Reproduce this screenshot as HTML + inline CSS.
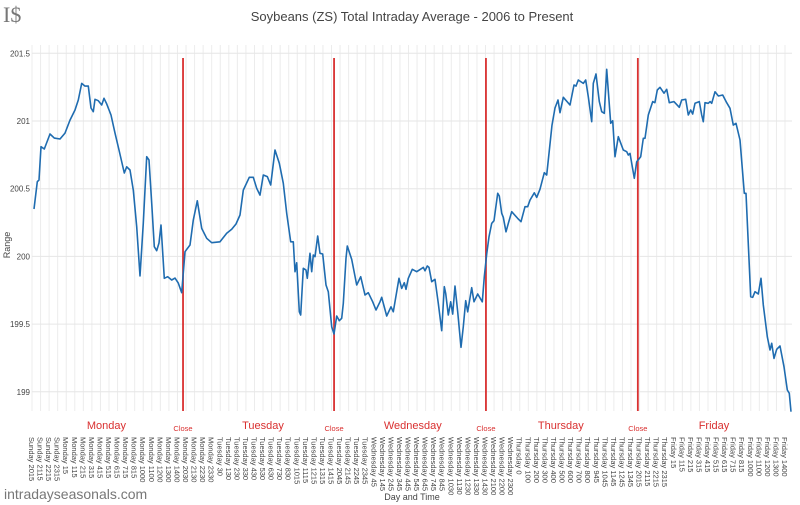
<!DOCTYPE html>
<html><head><meta charset="utf-8"><style>
html,body{margin:0;padding:0;background:#fff;}
svg{display:block;font-family:"Liberation Sans",sans-serif;}
</style></head><body>
<svg id="chart" width="800" height="505" viewBox="0 0 800 505">
<text x="3" y="22" font-family="Liberation Serif,serif" font-size="22" fill="#777">I$</text>
<text x="412" y="21" text-anchor="middle" font-size="13" fill="#444">Soybeans (ZS) Total Intraday Average - 2006 to Present</text>
<g id="grid"></g><g id="yticks"></g><g id="closes"></g><g id="xticks"></g>
<path id="line" fill="none" stroke="#1f6cb0" stroke-width="1.6" stroke-linejoin="round"></path>
<text transform="translate(10,245) rotate(-90)" text-anchor="middle" font-size="9" fill="#444">Range</text>
<text x="412" y="500" text-anchor="middle" font-size="9" fill="#444">Day and Time</text>
<text x="4" y="499" font-size="14" fill="#777">intradayseasonals.com</text>
</svg>
<script>
const categories = ["Sunday 2015","Sunday 2115","Sunday 2215","Sunday 2315",
"Monday 15","Monday 115","Monday 215","Monday 315","Monday 415","Monday 515","Monday 615","Monday 715","Monday 815","Monday 1000","Monday 1100","Monday 1200","Monday 1300","Monday 1400","Monday 2030","Monday 2130","Monday 2230","Monday 2330",
"Tuesday 30","Tuesday 130","Tuesday 230","Tuesday 330","Tuesday 430","Tuesday 530","Tuesday 630","Tuesday 730","Tuesday 830","Tuesday 1015","Tuesday 1115","Tuesday 1215","Tuesday 1315","Tuesday 1415","Tuesday 2045","Tuesday 2145","Tuesday 2245","Tuesday 2345",
"Wednesday 45","Wednesday 145","Wednesday 245","Wednesday 345","Wednesday 445","Wednesday 545","Wednesday 645","Wednesday 745","Wednesday 845","Wednesday 1030","Wednesday 1130","Wednesday 1230","Wednesday 1330","Wednesday 1430","Wednesday 2100","Wednesday 2200","Wednesday 2300",
"Thursday 0","Thursday 100","Thursday 200","Thursday 300","Thursday 400","Thursday 500","Thursday 600","Thursday 700","Thursday 800","Thursday 945","Thursday 1045","Thursday 1145","Thursday 1245","Thursday 1345","Thursday 2015","Thursday 2115","Thursday 2215","Thursday 2315",
"Friday 15","Friday 115","Friday 215","Friday 315","Friday 415","Friday 515","Friday 615","Friday 715","Friday 815","Friday 1000","Friday 1100","Friday 1200","Friday 1300","Friday 1400"];
const yTicks = [199,199.5,200,200.5,201,201.5];
const yTickLabels = ["199","199.5","200","200.5","201","201.5"];
const dayNames = ["Monday","Tuesday","Wednesday","Thursday","Friday"];
const dayCenters = [8.7,27.0,44.5,61.8,79.7];
const closeIdx = [17.65,35.3,53.05,70.8];
const seriesTime = [0.23,0.62,0.82,1.05,1.44,2.10,2.61,3.27,3.86,4.44,5.03,5.41,5.81,6.19,6.58,6.90,7.16,7.36,7.75,8.15,8.41,8.73,9.23,9.70,10.17,10.79,11.07,11.45,11.84,12.24,12.62,13.01,13.40,13.67,13.99,14.29,14.57,14.84,15.08,15.46,15.86,16.33,16.71,17.10,17.49,17.88,18.46,18.85,19.32,19.83,20.42,21.00,21.97,22.75,23.34,23.84,24.31,24.69,25.39,25.86,26.26,26.65,27.03,27.50,27.90,28.40,28.90,29.37,29.77,30.23,30.54,30.73,30.93,31.24,31.40,31.71,32.02,32.17,32.49,32.69,32.87,33.07,33.39,33.66,33.97,34.36,34.63,35.02,35.29,35.61,35.91,36.19,36.38,36.70,36.85,37.36,37.95,38.41,38.92,39.30,39.82,40.20,40.67,40.87,41.45,41.95,42.22,42.89,43.20,43.51,43.71,43.98,44.44,44.96,45.73,45.93,46.20,46.40,46.71,47.10,47.48,47.88,48.18,48.35,48.65,48.93,49.16,49.43,49.75,50.13,50.40,50.68,50.92,51.38,51.65,52.09,52.62,52.86,53.14,53.41,53.72,53.99,54.42,54.61,54.89,55.08,55.39,55.66,56.06,56.76,57.15,57.61,57.93,58.20,58.70,58.98,59.37,59.87,60.15,60.34,60.77,61.12,61.47,61.70,62.09,62.87,63.34,63.57,63.84,64.43,64.71,65.01,65.41,65.60,65.91,66.30,66.58,66.88,67.16,67.63,67.86,68.13,68.52,69.10,69.50,69.68,69.88,70.39,70.67,71.14,71.44,71.64,72.02,72.54,72.80,73.07,73.39,73.86,74.17,74.48,75.02,75.65,75.93,76.39,76.70,76.98,77.21,77.48,77.98,78.26,78.45,78.65,79.04,79.24,79.43,79.82,80.21,80.72,81.19,81.57,81.96,82.27,82.74,83.24,83.44,83.99,84.22,84.49,84.88,85.19,85.46,85.93,86.24,86.44,86.71,87.03,87.41,87.88,88.27,88.50,88.70];
const seriesValue = [200.350,200.552,200.564,200.810,200.793,200.904,200.874,200.867,200.911,201.007,201.081,201.155,201.278,201.258,201.258,201.096,201.069,201.160,201.150,201.118,201.168,201.126,201.044,200.911,200.786,200.616,200.662,200.638,200.490,200.219,199.855,200.247,200.736,200.712,200.394,200.072,200.042,200.099,200.232,199.838,199.850,199.826,199.840,199.803,199.732,200.035,200.084,200.269,200.411,200.207,200.134,200.101,200.108,200.171,200.200,200.239,200.306,200.490,200.584,200.584,200.503,200.453,200.601,200.589,200.527,200.786,200.688,200.540,200.318,200.108,200.108,199.887,199.953,199.591,199.567,199.912,199.899,199.838,200.023,199.887,200.010,199.998,200.151,200.023,200.018,199.789,199.739,199.481,199.427,199.560,199.525,199.543,199.653,199.986,200.077,199.978,199.789,199.850,199.715,199.732,199.665,199.604,199.665,199.698,199.560,199.628,199.591,199.838,199.764,199.806,199.757,199.838,199.905,199.887,199.919,199.894,199.929,199.919,199.813,199.831,199.653,199.451,199.776,199.727,199.567,199.665,199.574,199.781,199.591,199.329,199.481,199.673,199.591,199.769,199.665,199.722,199.665,199.850,200.018,200.145,200.244,200.264,200.466,200.446,200.318,200.289,200.182,200.244,200.330,200.281,200.256,200.367,200.367,200.416,200.470,200.436,200.496,200.618,200.601,200.712,200.970,201.096,201.155,201.061,201.175,201.118,201.266,201.258,201.303,201.278,201.303,201.179,200.995,201.278,201.347,201.143,201.069,201.057,201.382,200.983,201.002,200.736,200.884,200.786,200.773,200.749,200.761,200.577,200.699,200.736,200.872,200.872,201.044,201.143,201.135,201.229,201.249,201.205,201.234,201.135,201.143,201.101,201.155,201.160,201.044,201.081,201.052,201.131,201.143,201.044,200.995,201.135,201.131,201.143,201.131,201.216,201.185,201.192,201.135,201.094,200.970,200.983,200.860,200.466,200.466,199.702,199.698,199.739,199.722,199.838,199.641,199.407,199.309,199.358,199.247,199.314,199.338,199.185,199.013,198.989,198.853];

const NS="http://www.w3.org/2000/svg";
const xS = i => 32 + i*8.557;
const yS = v => 53.3 + (201.5 - v)*135.4;
const PT = 45, PB = 411, PL = 32, PR = 792;
function mk(tag, attrs, parent){const e=document.createElementNS(NS,tag);for(const k in attrs)e.setAttribute(k,attrs[k]);parent.appendChild(e);return e;}
const grid=document.getElementById('grid');
categories.forEach((c,i)=>{
  const l=mk('line',{x1:xS(i),x2:xS(i),y1:PT,y2:PB,stroke:'#ececec','stroke-width':1},grid);
  
  
});
const yt=document.getElementById('yticks');
yTicks.forEach((v,i)=>{
  const l=mk('line',{x1:PL,x2:PR,y1:yS(v),y2:yS(v),stroke:'#e6e6e6','stroke-width':1},grid);
  
  
  const t=mk('text',{x:30,y:yS(v)+3,'text-anchor':'end','font-size':8,fill:'#444'},yt);
  t.textContent=yTickLabels[i];
  
  
});
const cl=document.getElementById('closes');
closeIdx.forEach(c=>{
  const l=mk('line',{x1:xS(c),x2:xS(c),y1:58,y2:PB,stroke:'#d93030','stroke-width':1.8},cl);
  
  
  const t=mk('text',{x:xS(c),y:431,'text-anchor':'middle','font-size':7.5,fill:'#d93030'},cl);
  t.textContent='Close';
  
  
});
dayNames.forEach((d,i)=>{
  const t=mk('text',{x:xS(dayCenters[i]),y:429,'text-anchor':'middle','font-size':11,fill:'#d93030'},cl);
  t.textContent=d;
  
  
});
const xt=document.getElementById('xticks');
categories.forEach((c,i)=>{
  const t=mk('text',{transform:`translate(${xS(i)-3},437) rotate(90)`,'font-size':7.5,fill:'#444'},xt);
  t.textContent=c;
  
  
});
let d='';
seriesTime.forEach((t,i)=>{d+=(i?'L':'M')+xS(t).toFixed(1)+','+yS(seriesValue[i]).toFixed(1);});
document.getElementById('line').setAttribute('d',d);
</script>
</body></html>
